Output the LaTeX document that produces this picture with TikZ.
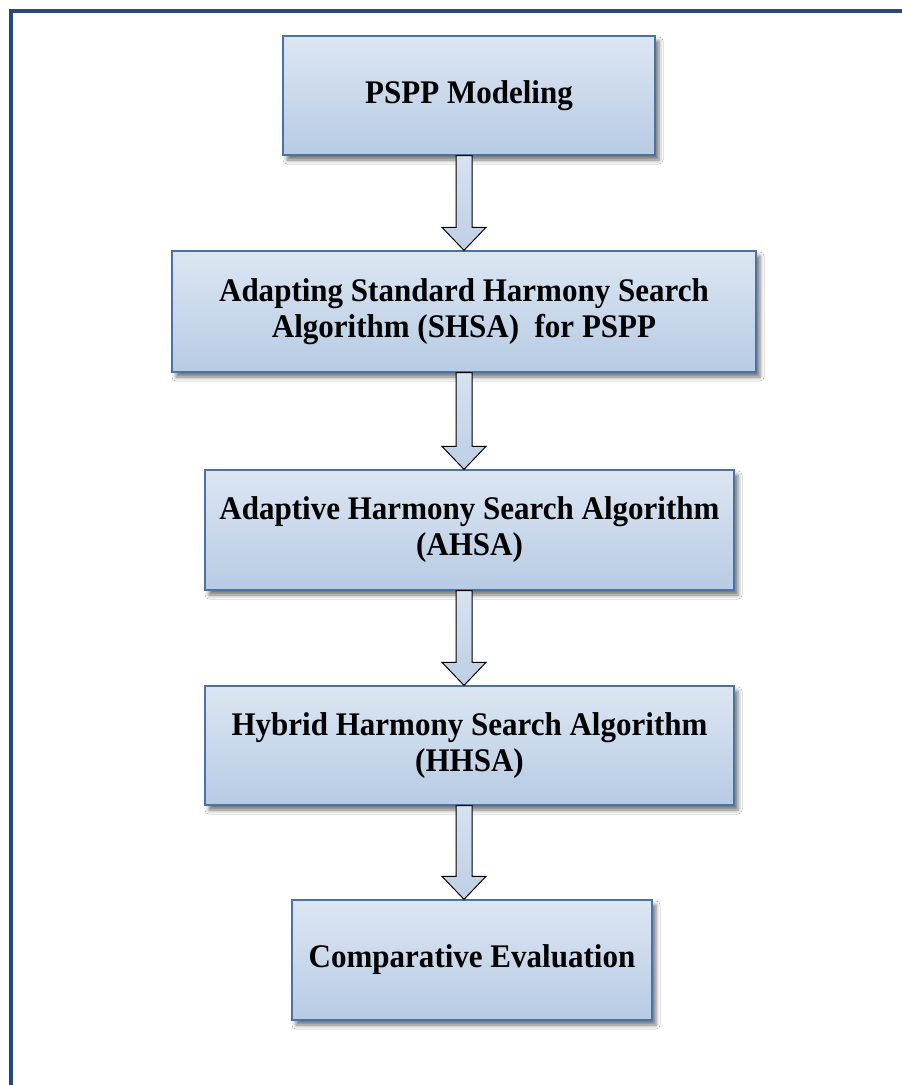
\documentclass[tikz,border=0pt]{standalone}
\usepackage{fontspec}
\setmainfont{Liberation Serif}
\newfontfamily\boxfont[FakeStretch=0.94]{Liberation Serif}
\usetikzlibrary{calc,shadows.blur}
\definecolor{frameblue}{RGB}{37,74,122}
\definecolor{boxtop}{RGB}{220,230,242}
\definecolor{boxbot}{RGB}{183,203,228}
\definecolor{boxborder}{RGB}{74,114,166}
\definecolor{arrtop}{RGB}{214,226,240}
\definecolor{arrbot}{RGB}{190,207,229}
\newcommand\blockarr[2]{%
  \path[blockarrow]
    ($(#1.south -| ax)+(-8,0)$) -- ($(#1.south -| ax)+(8,0)$)
    -- ($(#2.north -| ax)+(8,-23)$) -- ($(#2.north -| ax)+(22,-23)$)
    -- (#2.north -| ax)
    -- ($(#2.north -| ax)+(-22,-23)$) -- ($(#2.north -| ax)+(-8,-23)$)
    -- cycle;}
\begin{document}
\begin{tikzpicture}[x=1pt,y=-1pt,
  stepbox/.style={draw=boxborder, line width=1.3pt, top color=boxtop, bottom color=boxbot,
    align=center, font=\boxfont\fontsize{33}{36}\selectfont\bfseries, inner sep=0pt,
    blur shadow={shadow xshift=4pt, shadow yshift=-5pt, shadow blur radius=4pt, shadow opacity=55}},
  blockarrow/.style={draw=black, line width=1pt, line join=miter, top color=arrtop, bottom color=arrbot}]
\useasboundingbox (0,0) rectangle (902,1085);
\fill[white] (0,0) rectangle (902,1085);
\draw[frameblue, line width=4pt] (11,1085) -- (11,11) -- (902,11);
\coordinate (ax) at (464,0);
\node[stepbox, minimum width=372pt, minimum height=119pt] (b1) at (469,95.5) {PSPP Modeling};
\node[stepbox, minimum width=584pt, minimum height=121pt] (b2) at (464,311.5) {Adapting Standard Harmony Search\\Algorithm (SHSA)~ for PSPP};
\node[stepbox, minimum width=529pt, minimum height=120pt] (b3) at (469.5,530) {Adaptive Harmony Search Algorithm\\(AHSA)};
\node[stepbox, minimum width=529pt, minimum height=119pt] (b4) at (469.5,745.5) {Hybrid Harmony Search Algorithm\\(HHSA)};
\node[stepbox, minimum width=360pt, minimum height=120pt] (b5) at (472,960) {Comparative Evaluation};
\blockarr{b1}{b2}
\blockarr{b2}{b3}
\blockarr{b3}{b4}
\blockarr{b4}{b5}
\end{tikzpicture}
\end{document}
